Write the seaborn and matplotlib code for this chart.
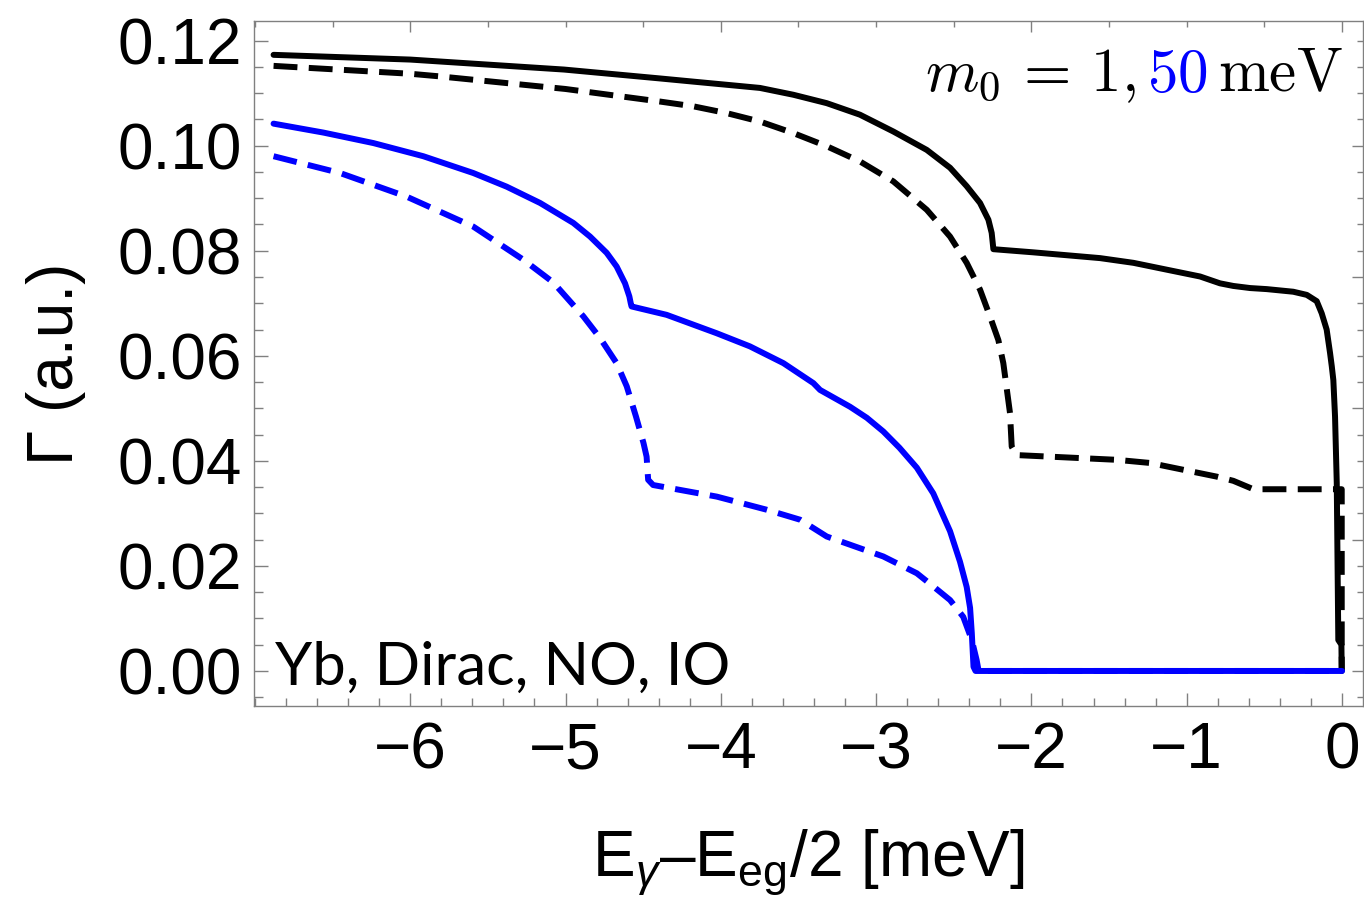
import numpy as np
import pandas as pd
import matplotlib
matplotlib.use("Agg")
import matplotlib.pyplot as plt
import seaborn as sns
from matplotlib.ticker import MultipleLocator, NullFormatter

# ---- data: decay rate vs photon energy offset ----
# m0 = 1 meV, Dirac NO (solid) / IO (dashed)
x_m1_no = [-6.88, -6.0, -5.01, -4.39, -4.177, -3.962, -3.748, -3.533, -3.318, -3.104,
           -2.889, -2.674, -2.524, -2.417, -2.331, -2.277, -2.256, -2.245,
           -1.988, -1.558, -1.343, -1.129, -0.914, -0.786, -0.70, -0.592, -0.485,
           -0.314, -0.227, -0.163, -0.131, -0.099, -0.077, -0.066, -0.056, -0.045,
           -0.034, -0.024, -0.004, -0.002]
y_m1_no = [0.1173, 0.1164, 0.1145, 0.1128, 0.1122, 0.1116, 0.1110, 0.1097, 0.1081, 0.1059,
           0.1027, 0.0992, 0.0958, 0.0923, 0.0891, 0.0859, 0.0834, 0.0803,
           0.0797, 0.0786, 0.0777, 0.0764, 0.0751, 0.0738, 0.0733, 0.0729, 0.0727,
           0.0722, 0.0716, 0.0704, 0.0681, 0.0650, 0.0605, 0.0580, 0.0554, 0.0484,
           0.0358, 0.0059, 0.0050, 0.0]

x_m1_io = [-6.88, -6.0, -5.81, -5.0, -4.39, -4.177, -3.962, -3.748, -3.533, -3.318, -3.104,
           -2.889, -2.674, -2.524, -2.417, -2.331, -2.267, -2.213, -2.181, -2.138, -2.127,
           -2.095, -1.880, -1.451, -1.236, -1.022, -0.807, -0.70, -0.571, -0.01,
           -0.002, -0.002]
y_m1_io = [0.1152, 0.1137, 0.1132, 0.1108, 0.1084, 0.1075, 0.1062, 0.1046, 0.1024, 0.0999, 0.0970,
           0.0932, 0.0878, 0.0827, 0.0777, 0.0726, 0.0675, 0.0630, 0.0586, 0.0491, 0.0427,
           0.0411, 0.0408, 0.0402, 0.0396, 0.0383, 0.0370, 0.0362, 0.0346, 0.0346,
           0.0346, 0.0]

# m0 = 50 meV, Dirac NO (solid) / IO (dashed)
x_m50_no = [-6.88, -6.559, -6.237, -5.916, -5.594, -5.379, -5.164, -4.950, -4.842, -4.735,
            -4.671, -4.617, -4.589, -4.580, -4.575, -4.349, -4.027, -3.813, -3.597, -3.404,
            -3.361, -3.168, -3.06, -2.954, -2.85, -2.738, -2.632, -2.524, -2.460, -2.417,
            -2.395, -2.384, -2.373, -2.36, 0.0]
y_m50_no = [0.1042, 0.1025, 0.1005, 0.0980, 0.0948, 0.0922, 0.0891, 0.0853, 0.0827, 0.0796,
            0.0770, 0.0738, 0.0713, 0.0700, 0.0694, 0.0678, 0.0643, 0.0618, 0.0586, 0.0548,
            0.0535, 0.0503, 0.0482, 0.0456, 0.0425, 0.0387, 0.0338, 0.0266, 0.0208, 0.0160,
            0.0120, 0.0072, 0.0008, 0.0, 0.0]

x_m50_io = [-6.88, -6.452, -6.023, -5.594, -5.272, -5.08, -4.885, -4.778, -4.671, -4.606,
            -4.546, -4.498, -4.478, -4.468, -4.436, -4.027, -3.705, -3.49, -3.318, -2.954,
            -2.738, -2.632, -2.524, -2.439, -2.384, -2.353, -2.34, 0.0]
y_m50_io = [0.0980, 0.0948, 0.0903, 0.0846, 0.0783, 0.0740, 0.0675, 0.0634, 0.0586, 0.0542,
            0.0484, 0.0434, 0.0408, 0.0364, 0.0354, 0.0332, 0.0307, 0.0288, 0.0256, 0.0218,
            0.0186, 0.0161, 0.0135, 0.0103, 0.0059, 0.0021, 0.0, 0.0]

x_ticks = [-6, -5, -4, -3, -2, -1, 0]
y_ticks = [0.00, 0.02, 0.04, 0.06, 0.08, 0.10, 0.12]

# ---- style ----
sns.set_theme(style="ticks")
plt.rcParams["font.family"] = ["Liberation Sans", "DejaVu Sans"]
plt.rcParams["mathtext.fontset"] = "custom"
plt.rcParams["mathtext.rm"] = "Liberation Sans"
plt.rcParams["mathtext.it"] = "Liberation Sans:italic"
plt.rcParams["axes.unicode_minus"] = True
plt.rcParams["text.color"] = "black"
plt.rcParams["axes.labelcolor"] = "black"

W, H = 1364, 905
fig = plt.figure(figsize=(W / 100, H / 100), dpi=100)
ax = fig.add_axes([254 / W, 1 - 706 / H, (1363 - 254) / W, (706 - 20.7) / H])

LW = 4.3
DASH = (0, (4.0, 1.9))
series = [
    (x_m1_no, y_m1_no, "black", "-"),
    (x_m1_io, y_m1_io, "black", DASH),
    (x_m50_no, y_m50_no, "#0000ff", "-"),
    (x_m50_io, y_m50_io, "#0000ff", DASH),
]
for xs, ys, col, ls in series:
    df = pd.DataFrame({"E": xs, "G": ys})
    sns.lineplot(data=df, x="E", y="G", ax=ax, color=col, linewidth=LW,
                 linestyle=ls, sort=False, estimator=None, legend=False)

ax.set_xlim(-7.006, 0.135)
ax.set_ylim(-0.00667, 0.1238)

frame_col = "#808080"
for sp in ax.spines.values():
    sp.set_color(frame_col)
    sp.set_linewidth(1.0)

FS = 46
ax.set_xticks(x_ticks)
ax.set_yticks(y_ticks)
ax.set_xticklabels([f"{v:d}" if v == 0 else "\u2212" + str(abs(v)) for v in x_ticks])
ax.set_yticklabels([f"{v:.2f}" for v in y_ticks])
ax.xaxis.set_minor_locator(MultipleLocator(0.2))
ax.yaxis.set_minor_locator(MultipleLocator(0.005))
ax.tick_params(axis="x", which="major", direction="in", length=9.1, width=1.0,
               color=frame_col, labelsize=FS, pad=11, labelcolor="black")
ax.tick_params(axis="x", which="minor", direction="in", length=5.5, width=1.0, color=frame_col)
ax.tick_params(axis="y", which="major", direction="in", length=10, width=1.0,
               color=frame_col, labelsize=FS, pad=9, labelcolor="black")
ax.tick_params(axis="y", which="minor", direction="in", length=6.3, width=1.0, color=frame_col)

# opposite frame edges carry their own tick spacing
top = ax.secondary_xaxis("top")
top.xaxis.set_major_locator(MultipleLocator(2))
top.xaxis.set_minor_locator(MultipleLocator(0.5))
top.xaxis.set_major_formatter(NullFormatter())
top.tick_params(which="major", direction="in", length=7.9, width=1.0, color=frame_col)
top.tick_params(which="minor", direction="in", length=4.0, width=1.0, color=frame_col)
top.spines["top"].set_visible(False)

right = ax.secondary_yaxis("right")
right.yaxis.set_major_locator(MultipleLocator(0.025))
right.yaxis.set_minor_locator(MultipleLocator(0.005))
right.yaxis.set_major_formatter(NullFormatter())
right.tick_params(which="major", direction="in", length=7.9, width=1.0, color=frame_col)
right.tick_params(which="minor", direction="in", length=4.0, width=1.0, color=frame_col)
right.spines["right"].set_visible(False)

ax.set_xlabel(r"E$_\gamma$–E$_{\rm eg}$/2 [meV]", fontsize=FS, labelpad=33, color="black")
ax.set_ylabel("Γ (a.u.)", fontsize=FS, labelpad=22, color="black")

ax.text(-6.87, -0.0027, "Yb, Dirac, NO, IO", fontsize=43, family=["Lato", "DejaVu Sans"],
        ha="left", va="baseline", color="black")

# mass label with the 50 meV value coloured like its curves
fig.canvas.draw()
renderer = fig.canvas.get_renderer()
x_px, y_px = ax.transData.transform((0.006, 0.1103))
pieces = [(r"$m_0\,=\,1,$", "black"), (r"$50$", "#0000ff"), (r"$\mathrm{meV}$", "black")]
cur = x_px
for s, c in reversed(pieces):
    t = fig.text(cur / W, y_px / H, s, ha="right", va="baseline", color=c,
                 fontsize=44, math_fontfamily="cm")
    w = t.get_window_extent(renderer).width
    cur -= w + 11

fig.savefig("out.png", dpi=100)
